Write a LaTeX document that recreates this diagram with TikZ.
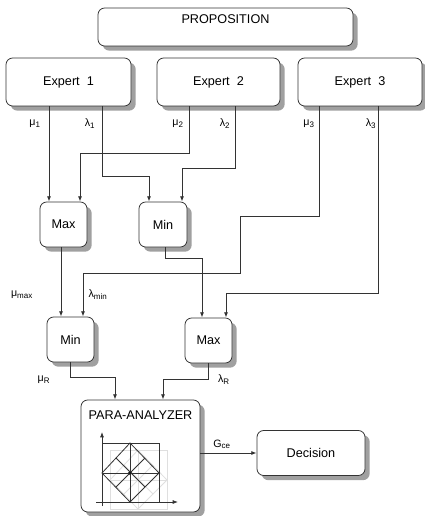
\documentclass[tikz,border=0pt]{standalone}
\usepackage{fontspec}
\setmainfont{Liberation Sans}
\usetikzlibrary{positioning,arrows.meta,calc,shadows}
\definecolor{wire}{HTML}{333333}
\definecolor{shade}{HTML}{A0A0A0}

\begin{document}
\begin{tikzpicture}[
  x=0.75pt, y=-0.75pt,
  >={Latex[length=4pt,width=3pt]},
  box/.style={draw=wire,line width=0.6pt,fill=white,rounded corners=5pt,inner sep=0pt,
    drop shadow={shadow xshift=3.5pt,shadow yshift=-3.5pt,fill=shade,opacity=1},
    font=\fontsize{9.5}{11}\selectfont},
  wire/.style={->,draw=wire,line width=0.6pt},
  lbl/.style={font=\fontsize{8}{9}\selectfont,inner sep=0pt}
]
\useasboundingbox (0,0) rectangle (424,516);
% boxes
\node[box,minimum width=191.25pt,minimum height=28.5pt,
  label={[font=\fontsize{9.5}{11}\selectfont,below=1.5pt]north:PROPOSITION}] (prop) at (225.5,27) {};
\node[box,minimum width=93.75pt,minimum height=36pt] (e1) at (68.5,82) {Expert\ \ 1};
\node[box,minimum width=92.25pt,minimum height=36pt] (e2) at (218.5,82) {Expert\ \ 2};
\node[box,minimum width=93pt,minimum height=36pt] (e3) at (360,82) {Expert\ \ 3};
\node[box,minimum width=35.25pt,minimum height=33.75pt] (max1) at (63.5,224.5) {Max};
\node[box,minimum width=36pt,minimum height=33.75pt] (min1) at (163,224.5) {Min};
\node[box,minimum width=35.25pt,minimum height=33.75pt] (min2) at (70.5,339.5) {Min};
\node[box,minimum width=35.25pt,minimum height=33.75pt] (max2) at (208.5,340.5) {Max};
\node[box,minimum width=89.25pt,minimum height=84pt,
  label={[font=\fontsize{9.5}{11}\selectfont,below=5pt]north:PARA-ANALYZER}] (pa) at (140.5,456) {};
\node[box,minimum width=81pt,minimum height=33.75pt] (dec) at (311,453) {Decision};

% connectors
\draw[wire] (49,0 |- e1.south) -- (49,0 |- max1.north);
\draw[wire] (102,0 |- e1.south) |- (149,176) -- (149,0 |- min1.north);
\draw[wire] (189,0 |- e2.south) |- (80,153) -- (80,0 |- max1.north);
\draw[wire] (235,0 |- e2.south) |- (182,168) -- (182,0 |- min1.north);
\draw[wire] (319,0 |- e3.south) |- (240,216) |- (83,273) -- (83,0 |- min2.north);
\draw[wire] (378,0 |- e3.south) |- (226,293) -- (226,0 |- max2.north);
\draw[wire] (61,0 |- max1.south) -- (61,0 |- min2.north);
\draw[wire] (165,0 |- min1.south) |- (202,258) -- (202,0 |- max2.north);
\draw[wire] (70,0 |- min2.south) |- (115,377) -- (115,0 |- pa.north);
\draw[wire] (208,0 |- max2.south) |- (163,379) -- (163,0 |- pa.north);
\draw[wire] (pa.east |- dec.west) -- (dec.west);

% labels
\node[lbl] (mu1) at (35,124) {μ\textsubscript{1}};
\node[lbl] (la1) at (90,124) {λ\textsubscript{1}};
\node[lbl] (mu2) at (178,124) {μ\textsubscript{2}};
\node[lbl] (la2) at (225,124) {λ\textsubscript{2}};
\node[lbl] (mu3) at (309,124) {μ\textsubscript{3}};
\node[lbl] (la3) at (371,124) {λ\textsubscript{3}};
\node[lbl] (mumax) at (22,295) {μ\textsubscript{max}};
\node[lbl] (lamin) at (98,295) {λ\textsubscript{min}};
\node[lbl] (muR) at (44,380) {μ\textsubscript{R}};
\node[lbl] (laR) at (224,380) {λ\textsubscript{R}};
\node[lbl] (gce) at (222,444) {G\textsubscript{ce}};

% lattice inside the para-analyzer
\foreach \dx/\dy/\col in {8/7/gray!25,0/0/wire}{
  \begin{scope}[shift={(\dx,\dy)},draw=\col,line width=0.6pt]
    \draw (102,443) rectangle (159,502);
    \draw (130,443) -- (159,473) -- (130,502) -- (102,473) -- cycle;
    \draw (102,473) -- (159,473) (130,443) -- (130,502);
    \draw (116,458) -- (145,487) (145,458) -- (116,487);
  \end{scope}
}
\fill[wire] (130,473) circle (1.2pt);
\draw[wire] (102,506) -- (102,432);
\draw[wire] (96,502) -- (178,502);
\end{tikzpicture}
\end{document}
